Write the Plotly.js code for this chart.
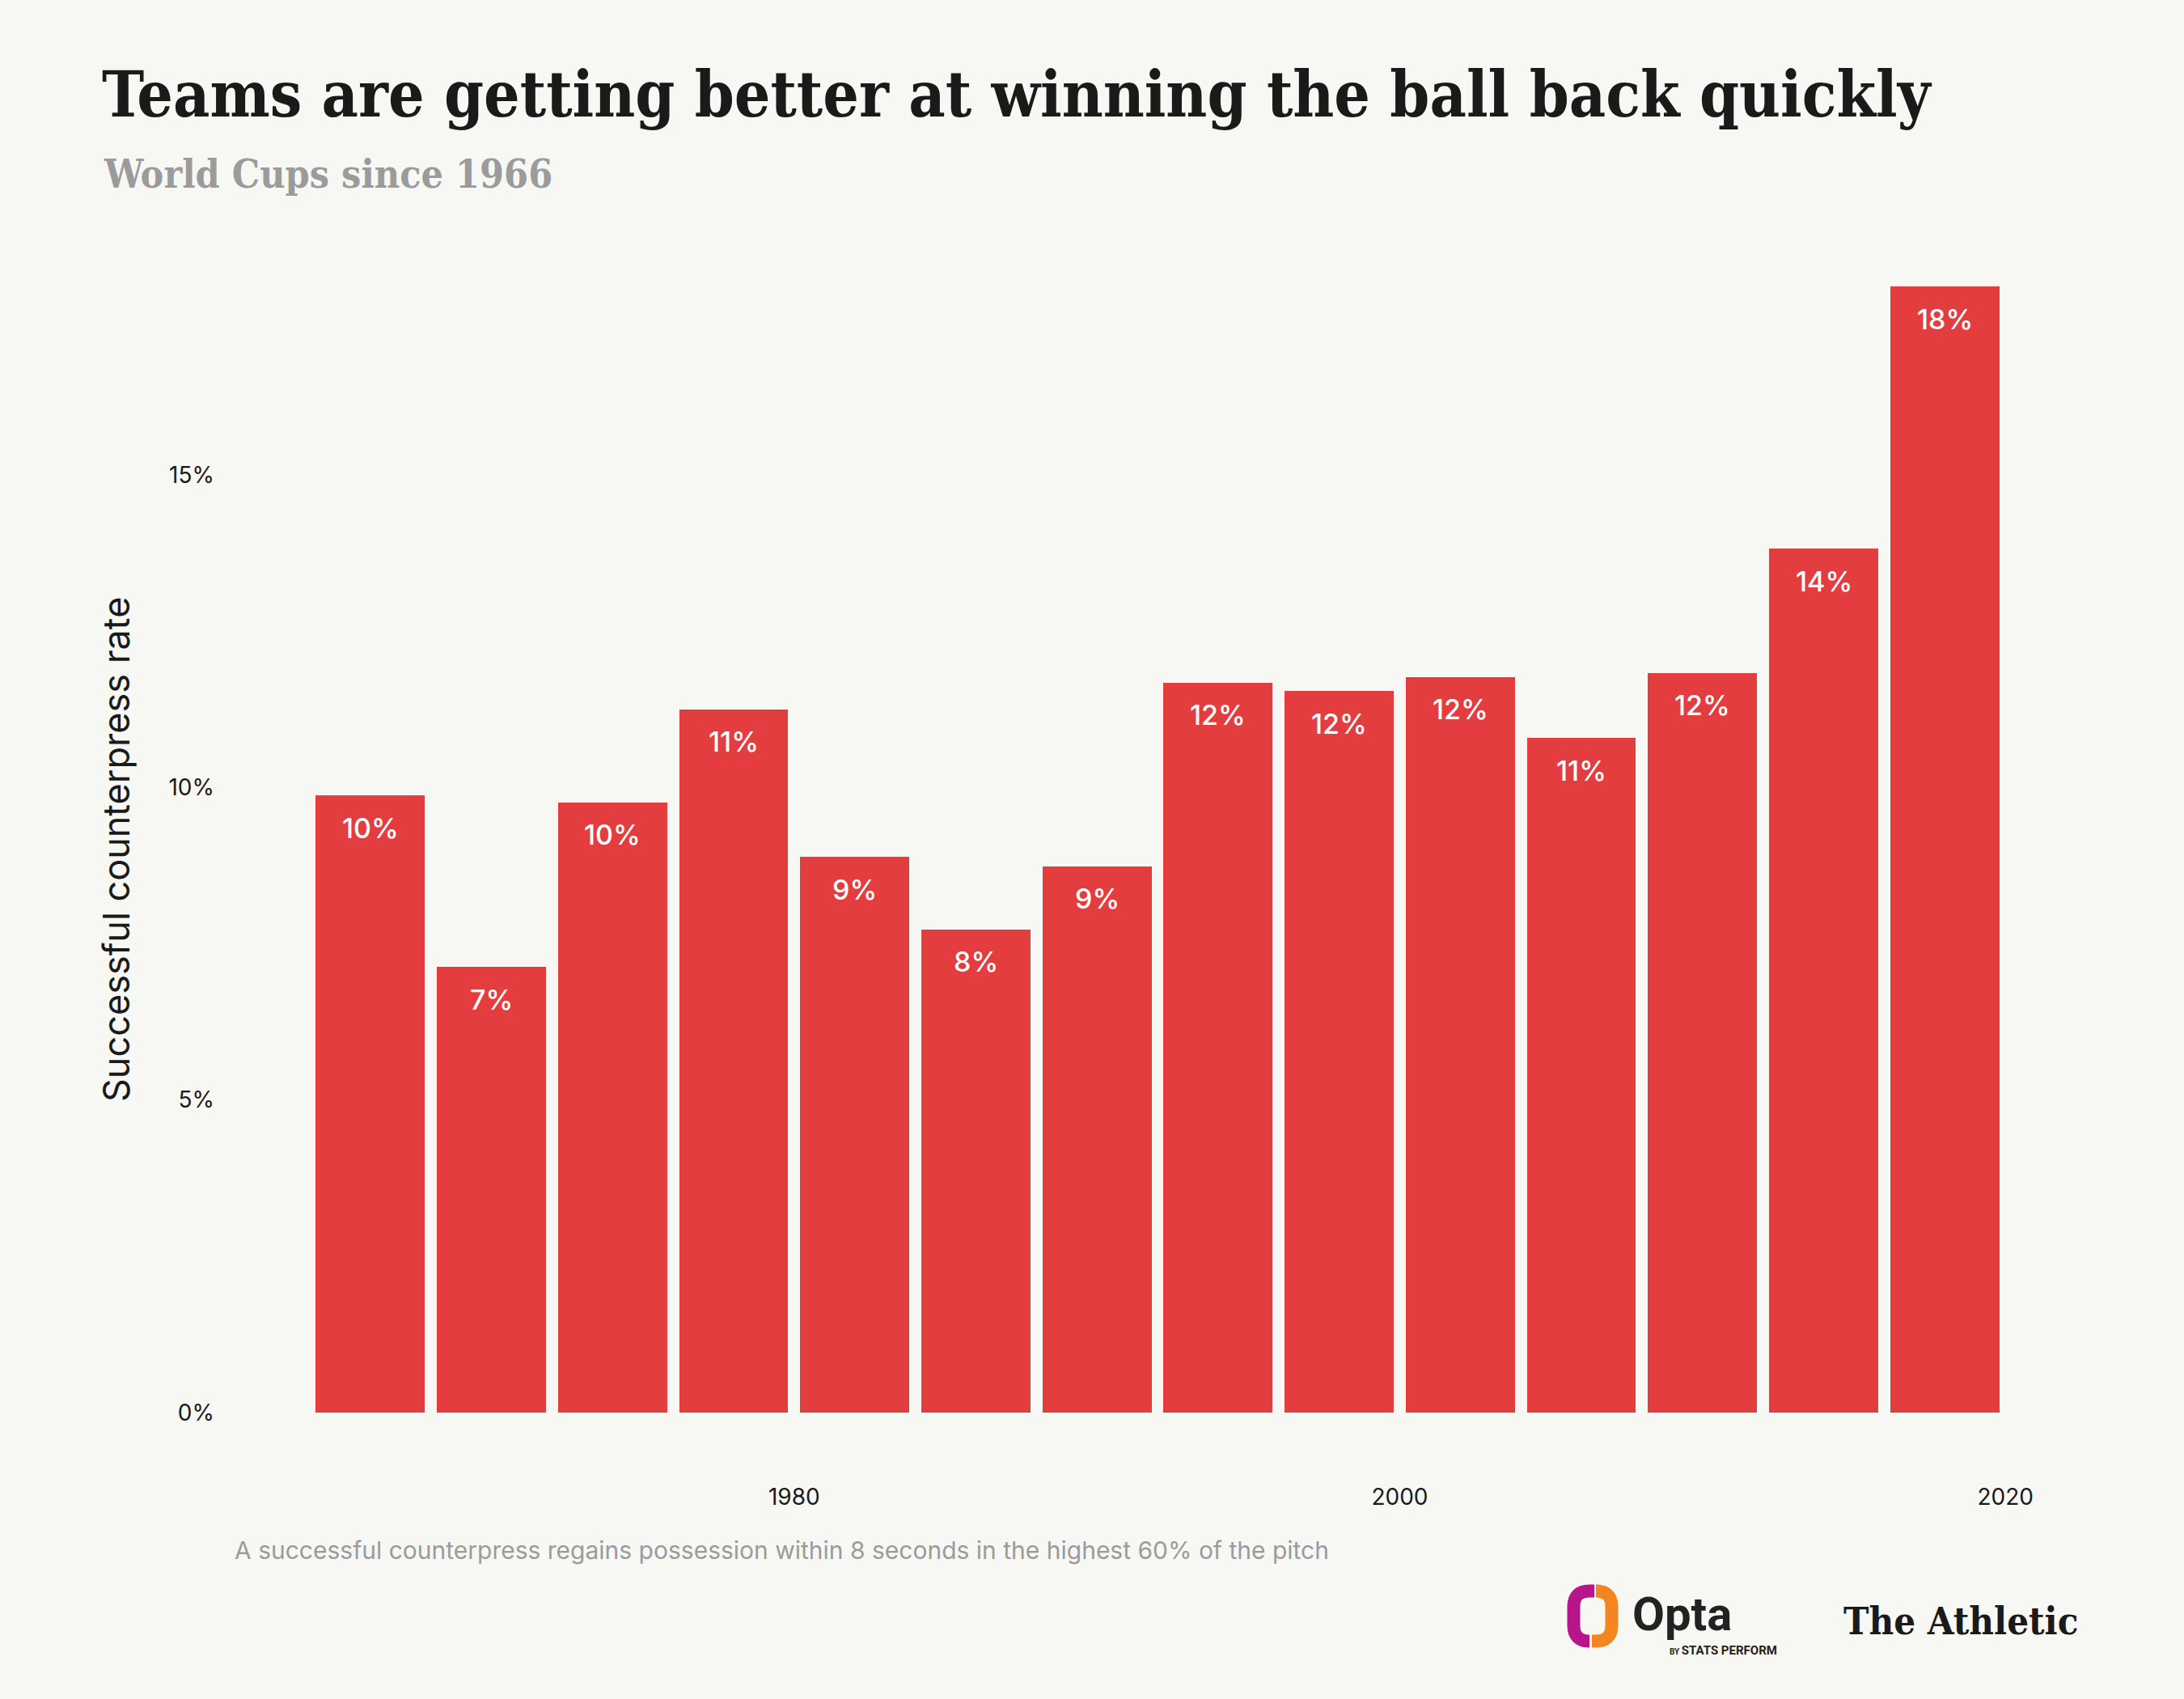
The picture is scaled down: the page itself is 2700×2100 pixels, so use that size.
<!DOCTYPE html>
<html>
<head>
<meta charset="utf-8">
<script src="https://cdn.plot.ly/plotly-3.0.1.min.js"></script>
<style>
  html, body { margin: 0; padding: 0; background: #F7F7F3; }
  #chart { width: 2700px; height: 2100px; }
</style>
</head>
<body>
<div id="chart"></div>
<script>
// ---- data ----
const years = [1966, 1970, 1974, 1978, 1982, 1986, 1990, 1994, 1998, 2002, 2006, 2010, 2014, 2018];
const rates = [9.87, 7.13, 9.76, 11.25, 8.89, 7.73, 8.74, 11.68, 11.54, 11.77, 10.79, 11.83, 13.82, 18.01];
const barLabels = ["10%", "7%", "10%", "11%", "9%", "8%", "9%", "12%", "12%", "12%", "11%", "12%", "14%", "18%"];
const yTickVals = [0, 5, 10, 15];
const yTickText = ["0%", "5%", "10%", "15%"];
const xTickVals = [1980, 2000, 2020];
const xTickText = ["1980", "2000", "2020"];

const titleText = "Teams are getting better at winning the ball back quickly";
const subtitleText = "World Cups since 1966";
const yTitleText = "Successful counterpress rate";
const noteText = "A successful counterpress regains possession within 8 seconds in the highest 60% of the pitch";

// ---- layout geometry ----
const W = 2700, H = 2100;
const M = { l: 308, r: 146, t: 278, b: 354 };
const PW = W - M.l - M.r, PH = H - M.t - M.b;
function px(x) { return (x - M.l) / PW; }
function py(y) { return (H - M.b - y) / PH; }

const SANS = "Inter, Roboto, 'Noto Sans', sans-serif";
const SLAB = "'DejaVu Serif Condensed', 'DejaVu Serif', serif";
const RED = "#E43D3F";
const BG = "#F7F7F3";

const trace = {
  type: "bar",
  x: years,
  y: rates,
  width: 3.6,
  marker: { color: RED, line: { width: 0 } },
  hoverinfo: "skip"
};

const annotations = years.map((yr, i) => ({
  x: yr, y: rates[i], xref: "x", yref: "y",
  text: barLabels[i], showarrow: false,
  xanchor: "center", yanchor: "middle", yshift: -40,
  font: { family: SANS, size: 34, color: "#FFFFFF", weight: 500 }
}));

annotations.push({
  xref: "paper", yref: "paper", x: px(126), y: py(215),
  xanchor: "left", yanchor: "middle", showarrow: false,
  text: subtitleText,
  font: { family: SLAB, size: 48, color: "#9B9B9B", weight: 700 }
});
annotations.push({
  xref: "paper", yref: "paper", x: px(143), y: py(1050),
  xanchor: "center", yanchor: "middle", showarrow: false, textangle: -90,
  text: yTitleText,
  font: { family: SANS, size: 45, color: "#1A1A1A" }
});
annotations.push({
  xref: "paper", yref: "paper", x: px(288), y: py(1916),
  xanchor: "left", yanchor: "middle", showarrow: false,
  text: noteText,
  font: { family: SANS, size: 30, color: "#9B9B9B" }
});
annotations.push({
  xref: "paper", yref: "paper", x: px(2016), y: py(1995),
  xanchor: "left", yanchor: "middle", showarrow: false,
  text: "Opta",
  font: { family: "Roboto, sans-serif", size: 58, color: "#222222", weight: 700 }
});
annotations.push({
  xref: "paper", yref: "paper", x: px(2062), y: py(2040),
  xanchor: "left", yanchor: "middle", showarrow: false,
  text: "<span style='font-size:10px'>BY </span>STATS PERFORM",
  font: { family: "Roboto, sans-serif", size: 15, color: "#222222", weight: 700 }
});
annotations.push({
  xref: "paper", yref: "paper", x: px(2571), y: py(2003),
  xanchor: "right", yanchor: "middle", showarrow: false,
  text: "The Athletic",
  font: { family: SLAB, size: 47, color: "#1A1A1A", weight: 700 }
});

// Opta icon as two stroked paths
function P(x, y) { return px(x).toFixed(5) + "," + py(y).toFixed(5); }
const leftPiece = "M" + P(1971, 1966.5) + " L" + P(1965, 1966.5) +
  " Q" + P(1945.5, 1966.5) + " " + P(1945.5, 1986) +
  " L" + P(1945.5, 2009) +
  " Q" + P(1945.5, 2028.5) + " " + P(1965, 2028.5) +
  " L" + P(1963, 2028.5);
const rightPiece = "M" + P(1978, 1966.5) + " L" + P(1973, 1966.5) +
  " Q" + P(1992.5, 1966.5) + " " + P(1992.5, 1986) +
  " L" + P(1992.5, 2009) +
  " Q" + P(1992.5, 2028.5) + " " + P(1973, 2028.5) +
  " L" + P(1968, 2028.5);

const shapes = [
  { type: "path", xref: "paper", yref: "paper", path: leftPiece,
    line: { color: "#B8158A", width: 16 }, fillcolor: "rgba(0,0,0,0)" },
  { type: "path", xref: "paper", yref: "paper", path: rightPiece,
    line: { color: "#F5861F", width: 16 }, fillcolor: "rgba(0,0,0,0)" }
];

const layout = {
  width: W, height: H,
  paper_bgcolor: BG, plot_bgcolor: BG,
  margin: M,
  showlegend: false,
  bargap: 0,
  title: {
    text: titleText,
    xref: "container", yref: "container",
    x: 126 / W, xanchor: "left",
    y: 1 - 117 / H, yanchor: "middle",
    font: { family: SLAB, size: 78, color: "#1A1A1A", weight: 700 }
  },
  xaxis: {
    range: [1962, 2022],
    tickvals: xTickVals, ticktext: xTickText,
    showgrid: false, zeroline: false, showline: false, ticks: "",
    ticklabelstandoff: 85,
    tickfont: { family: SANS, size: 28, color: "#1A1A1A" },
    fixedrange: true
  },
  yaxis: {
    range: [0, 19],
    tickvals: yTickVals, ticktext: yTickText,
    showgrid: false, zeroline: false, showline: false, ticks: "",
    ticklabelstandoff: 42,
    tickfont: { family: SANS, size: 28, color: "#1A1A1A" },
    fixedrange: true
  },
  annotations: annotations,
  shapes: shapes
};

Plotly.newPlot("chart", [trace], layout, { displayModeBar: false, staticPlot: true });
</script>
</body>
</html>
